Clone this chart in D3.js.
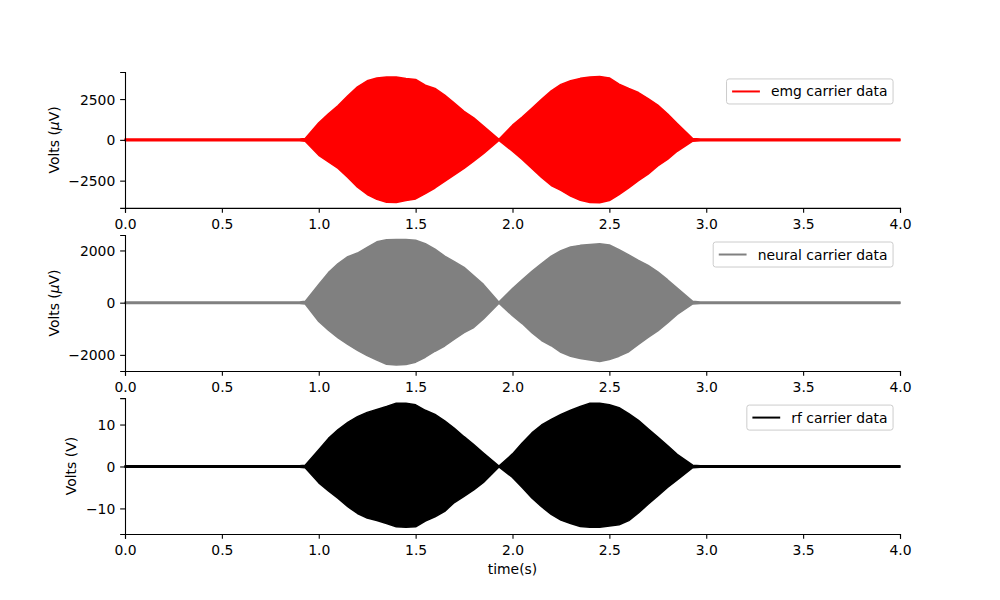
<!DOCTYPE html>
<html>
<head>
<meta charset="utf-8">
<script src="https://cdn.jsdelivr.net/npm/d3@7"></script>
<style>
  body { margin: 0; background: #fff; }
  svg { font-family: "DejaVu Sans", sans-serif; }
</style>
</head>
<body>
<div id="chart"></div>
<script>
const timeS = [0, 0.9, 0.93, 1.0, 1.05, 1.1, 1.15, 1.2, 1.25, 1.3, 1.35, 1.4, 1.45, 1.5, 1.55, 1.6, 1.65, 1.7, 1.75, 1.8, 1.85, 1.93,
  2.0, 2.05, 2.1, 2.15, 2.2, 2.25, 2.3, 2.35, 2.4, 2.45, 2.5, 2.55, 2.6, 2.65, 2.7, 2.75, 2.8, 2.85, 2.93, 2.97, 4.0];

// emg carrier, upper / lower envelope (uV)
const emgUpper = [60, 60, 80, 1050, 1600, 2100, 2700, 3250, 3620, 3790, 3850, 3860, 3760, 3700, 3350, 3150, 2750, 2250, 1750, 1350, 850, 30,
  900, 1400, 1940, 2480, 3000, 3400, 3620, 3770, 3850, 3880, 3800, 3420, 3150, 2900, 2530, 2130, 1600, 1000, 80, 60, 60];
const emgLower = [-60, -60, -80, -950, -1350, -1750, -2300, -2900, -3350, -3650, -3820, -3840, -3720, -3620, -3300, -2950, -2550, -2150, -1750, -1300, -850, -30,
  -700, -1200, -1750, -2300, -2800, -3100, -3450, -3700, -3840, -3860, -3720, -3350, -2950, -2500, -2100, -1600, -1200, -700, -80, -60, -60];

// neural carrier (uV)
const neuralUpper = [30, 30, 50, 700, 1150, 1500, 1760, 1900, 2120, 2330, 2410, 2420, 2420, 2390, 2260, 2050, 1780, 1570, 1350, 1030, 700, 20,
  540, 880, 1200, 1500, 1780, 1990, 2130, 2195, 2230, 2256, 2210, 2030, 1830, 1620, 1430, 1180, 880, 560, 50, 30, 30];
const neuralLower = [-30, -30, -50, -720, -1050, -1350, -1600, -1830, -2030, -2200, -2360, -2390, -2370, -2280, -2090, -1860, -1660, -1400, -1150, -950, -620, -20,
  -500, -800, -1150, -1450, -1650, -1900, -2050, -2140, -2200, -2250, -2180, -2050, -1880, -1600, -1330, -1080, -780, -450, -50, -30, -30];

// rf carrier (V)
const rfUpper = [0.2, 0.2, 0.3, 4.0, 6.7, 8.8, 10.5, 11.9, 12.9, 13.6, 14.3, 15.1, 15.1, 14.7, 13.4, 12.4, 10.9, 9.1, 7.1, 5.2, 3.2, 0.1,
  3.0, 5.6, 8.0, 9.9, 11.2, 12.4, 13.4, 14.3, 15.1, 15.1, 14.7, 14.0, 12.6, 11.0, 9.0, 7.0, 5.0, 2.9, 0.3, 0.2, 0.2];
const rfLower = [-0.2, -0.2, -0.3, -3.9, -5.8, -7.6, -9.6, -11.2, -12.3, -12.9, -13.6, -14.4, -14.5, -14.4, -13.0, -12.0, -10.7, -8.6, -7.1, -5.6, -3.8, -0.1,
  -2.6, -5.0, -7.5, -9.6, -11.4, -12.8, -13.6, -14.3, -14.5, -14.5, -14.2, -13.9, -12.9, -11.1, -9.0, -7.0, -5.0, -3.2, -0.3, -0.2, -0.2];

const xTicks = [0, 0.5, 1, 1.5, 2, 2.5, 3, 3.5, 4];

const panels = [
  { label: "emg carrier data", color: "#ff0000", upper: emgUpper, lower: emgLower, yDomain: [-4170, 4160], yTicks: [-2500, 0, 2500], unit: "uV" },
  { label: "neural carrier data", color: "#808080", upper: neuralUpper, lower: neuralLower, yDomain: [-2615, 2590], yTicks: [-2000, 0, 2000], unit: "uV" },
  { label: "rf carrier data", color: "#000000", upper: rfUpper, lower: rfLower, yDomain: [-16.1, 16.3], yTicks: [-10, 0, 10], unit: "V" }
];

const W = 1000, H = 600;
const mLeft = 125, mRight = 900, mTop = 72, mBottom = 534;
const ph = (mBottom - mTop) / 3.4;   // subplot height, hspace 0.2
const fs = 13.9;                     // 10pt at 100 dpi
const tickLen = 4.86;

const svg = d3.select("#chart").append("svg")
  .attr("width", W).attr("height", H);

const x = d3.scaleLinear().domain([0, 4]).range([mLeft, mRight]);

panels.forEach((p, i) => {
  const y0 = mTop + i * ph * 1.2;
  const y = d3.scaleLinear().domain(p.yDomain).range([y0 + ph, y0]);
  const g = svg.append("g");

  const rows = timeS.map((t, k) => ({ t: t, hi: p.upper[k], lo: p.lower[k] }));
  const area = d3.area()
    .x(d => x(d.t))
    .y0(d => y(d.lo))
    .y1(d => y(d.hi));

  g.append("path")
    .datum(rows)
    .attr("d", area)
    .attr("fill", p.color)
    .attr("stroke", p.color)
    .attr("stroke-width", 1.5)
    .attr("stroke-linejoin", "round");

  // x axis
  const xa = g.append("g")
    .attr("transform", `translate(0,${y0 + ph})`)
    .call(d3.axisBottom(x).tickValues(xTicks).tickFormat(d3.format(".1f")).tickSizeOuter(0).tickSize(tickLen).tickPadding(tickLen));
  xa.selectAll("text").attr("dy", null).attr("y", 20.7).attr("fill", "#000");

  // y axis
  const ya = g.append("g")
    .attr("transform", `translate(${mLeft},0)`)
    .call(d3.axisLeft(y).tickValues(p.yTicks).tickFormat(d3.format("d")).tickSizeOuter(0).tickSize(tickLen).tickPadding(tickLen));
  ya.selectAll("text").attr("dy", "0.36em").attr("fill", "#000");

  [xa, ya].forEach(a => {
    a.attr("font-family", "DejaVu Sans, sans-serif").attr("font-size", fs);
    a.select(".domain").attr("stroke", "#000").attr("stroke-width", 1.1);
    a.selectAll(".tick line").attr("stroke", "#000").attr("stroke-width", 1.1);
  });

  // y label, placed left of the widest tick label
  let minX = Infinity;
  ya.selectAll("text").each(function () { minX = Math.min(minX, this.getBBox().x + mLeft); });
  const yl = g.append("text")
    .attr("transform", `translate(${minX - 5.56 - 4},${y0 + ph / 2}) rotate(-90)`)
    .attr("text-anchor", "middle")
    .attr("font-size", fs)
    .attr("fill", "#000");
  if (p.unit === "uV") {
    yl.append("tspan").text("Volts (");
    yl.append("tspan").attr("font-style", "italic").text("\u03bc");
    yl.append("tspan").text("V)");
  } else {
    yl.text("Volts (V)");
  }

  // legend, upper right
  const lg = g.append("g");
  const txt = lg.append("text")
    .attr("font-size", fs)
    .attr("fill", "#000")
    .text(p.label);
  const tw = txt.node().getComputedTextLength();
  const pad = 0.4 * fs, hl = 2 * fs, htp = 0.8 * fs;
  const bw = pad + hl + htp + tw + pad;
  const bh = 2 * pad + fs * 1.0;
  const bx = mRight - 0.5 * fs - bw;
  const by = y0 + 0.5 * fs;
  lg.insert("rect", "text")
    .attr("x", bx).attr("y", by)
    .attr("width", bw).attr("height", bh)
    .attr("rx", 2.5)
    .attr("fill", "#fff").attr("fill-opacity", 0.8)
    .attr("stroke", "#cccccc").attr("stroke-width", 1);
  lg.append("line")
    .attr("x1", bx + pad).attr("x2", bx + pad + hl)
    .attr("y1", by + bh / 2).attr("y2", by + bh / 2)
    .attr("stroke", p.color).attr("stroke-width", 2);
  txt.attr("x", bx + pad + hl + htp).attr("y", by + bh / 2 + 5);
});

svg.append("text")
  .attr("x", (mLeft + mRight) / 2)
  .attr("y", 574)
  .attr("text-anchor", "middle")
  .attr("font-size", fs)
  .attr("fill", "#000")
  .text("time(s)");
</script>
</body>
</html>
